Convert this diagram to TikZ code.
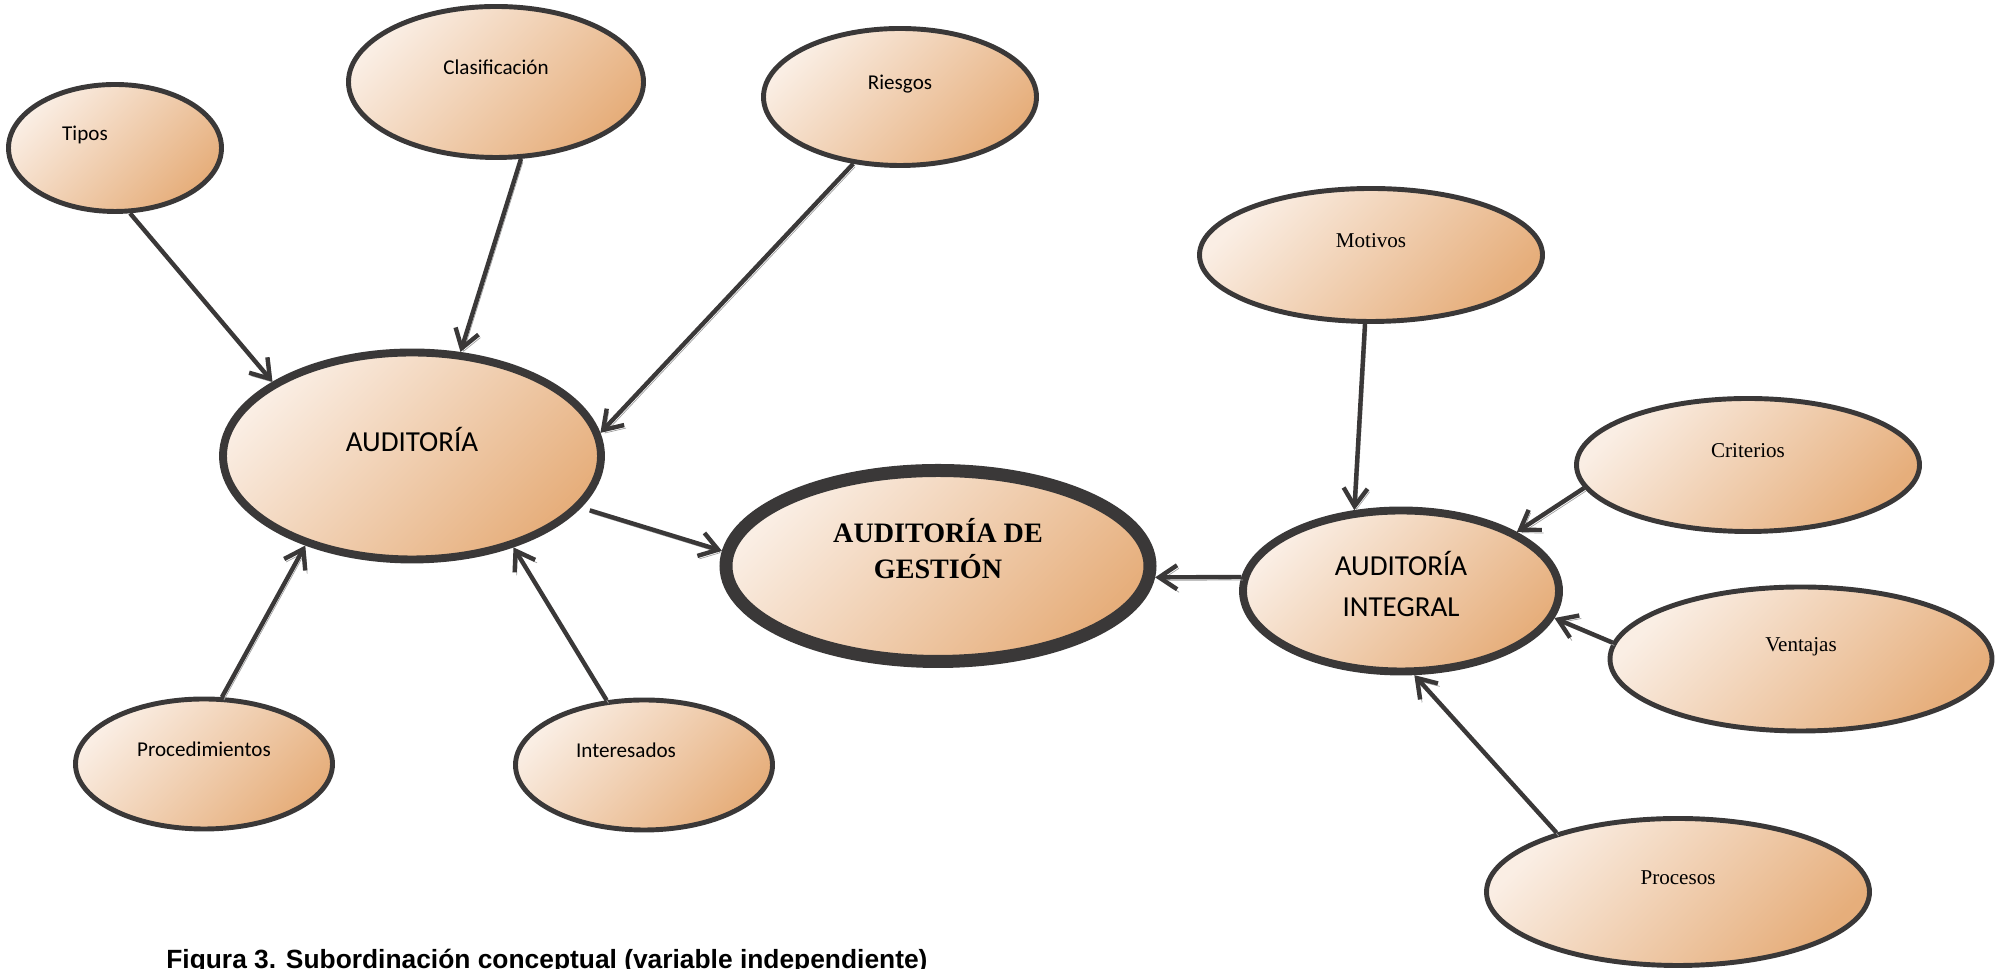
\documentclass[tikz,border=0pt]{standalone}
\usepackage{fontspec}
\setmainfont{Liberation Serif}
\newfontfamily\calibri{Carlito}
\newfontfamily\arialfont{Liberation Sans}
\usetikzlibrary{arrows.meta}
\usetikzlibrary{shapes}

\definecolor{linegray}{HTML}{3A3838}
\definecolor{shadowgray}{HTML}{A0A0A0}
\definecolor{peachlight}{HTML}{FAEEE4}
\definecolor{peachdark}{HTML}{E6AE7B}

\tikzset{
  oval/.style={ellipse,draw=linegray,line width=2.8pt,top color=peachlight,bottom color=peachdark,shading angle=45,inner sep=0pt,text height=9pt,text depth=17pt},
  cal/.style={font=\calibri\fontsize{12}{14}\selectfont},
  tnr/.style={font=\fontsize{12}{14}\selectfont},
  conn/.style={draw=linegray,line width=2.5pt,-{Straight Barb[length=3.6mm,width=4.8mm]},
    preaction={draw=shadowgray,transform canvas={xshift=1.1pt,yshift=-1.7pt}}}
}

\begin{document}
\begin{tikzpicture}
\useasboundingbox (0,0) rectangle (39.94,19.38);

\node(Tipos) at (2.30,16.42) [oval,cal,minimum width=4.26cm,minimum height=2.54cm]{Tipos\hspace*{1.2cm}};
\node(Clasif) at (9.92,17.74) [oval,cal,minimum width=5.90cm,minimum height=3.02cm]{Clasificación};
\node(Riesgos) at (18.00,17.44) [oval,cal,minimum width=5.46cm,minimum height=2.74cm]{Riesgos};
\node(Aud) at (8.24,10.26) [oval,line width=4.5pt,minimum width=7.56cm,minimum height=4.14cm,font=\calibri\fontsize{16.5}{20}\selectfont,text height=12pt,text depth=17.3pt]{AUDITORÍA};
\node(Proced) at (4.08,4.10) [oval,cal,minimum width=5.14cm,minimum height=2.60cm]{Procedimientos};
\node(Interes) at (12.88,4.08) [oval,cal,minimum width=5.14cm,minimum height=2.60cm]{Interesados\hspace*{0.72cm}};

\node(Gestion) at (18.76,8.06) [oval,line width=7.4pt,minimum width=8.48cm,minimum height=3.82cm,font=\bfseries\fontsize{16}{20.4}\selectfont,text height=12pt,text depth=38.2pt]{\begin{tabular}[t]{@{}c@{}}AUDITORÍA DE\\GESTIÓN\end{tabular}};

\node(Motivos) at (27.42,14.28) [oval,tnr,minimum width=6.86cm,minimum height=2.66cm]{Motivos};
\node(Criterios) at (34.96,10.08) [oval,tnr,minimum width=6.86cm,minimum height=2.66cm]{Criterios};
\node(Integral) at (28.02,7.56) [oval,line width=4.5pt,minimum width=6.32cm,minimum height=3.22cm,font=\calibri\fontsize{16.5}{23.5}\selectfont,text height=12pt,text depth=30pt]{\begin{tabular}[t]{@{}c@{}}AUDITORÍA\\INTEGRAL\end{tabular}};
\node(Ventajas) at (36.02,6.20) [oval,tnr,minimum width=7.64cm,minimum height=2.88cm]{Ventajas};
\node(Procesos) at (33.56,1.54) [oval,tnr,minimum width=7.66cm,minimum height=2.94cm]{Procesos};

\node(Fig) at (3.32,0.0) [anchor=base west,inner sep=0pt,font=\arialfont\bfseries\fontsize{15}{18}\selectfont]{Figura 3. Subordinación conceptual (variable independiente)};

\draw[conn] (Tipos.-77) -- (Aud.152);
\draw[conn] (Clasif.-72) -- (Aud.65);
\draw[conn] (Riesgos.-125) -- (Aud.7);
\draw[conn] (Proced.75) -- (Aud.-140);
\draw[conn] (Interes.120) -- (Aud.-42);
\draw[conn,shorten <=0.18cm] (Aud.-17) -- (Gestion.176);
\draw[conn] (Integral.175) -- (Gestion.-3);
\draw[conn] (Motivos.-95) -- (Integral.120);
\draw[conn] (Criterios.188) -- (Integral.27);
\draw[conn] (Ventajas.175) -- (Integral.-10);
\draw[conn] (Procesos.154) -- (Integral.-81);
\end{tikzpicture}
\end{document}
